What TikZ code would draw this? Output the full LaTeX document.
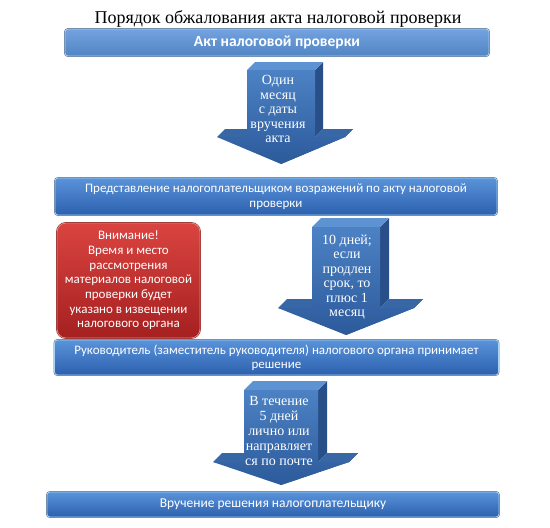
\documentclass[tikz,border=0pt]{standalone}
\usepackage{fontspec}
\setmainfont{Liberation Serif}
\newfontfamily\sansf{Carlito}
\definecolor{boxtop}{HTML}{5A93DA}
\definecolor{boxbot}{HTML}{2C60AE}
\definecolor{boxrim}{HTML}{A8D2F2}
\definecolor{boxout}{HTML}{5B6E8C}
\definecolor{redtop}{HTML}{DA4440}
\definecolor{redbot}{HTML}{A52020}
\definecolor{redrim}{HTML}{E98580}
\definecolor{redout}{HTML}{7A1A1A}
\definecolor{arrfronttop}{HTML}{4C82C4}
\definecolor{arrfrontbot}{HTML}{2C5A9B}
\definecolor{arrtop}{HTML}{5E93D3}
\definecolor{arrside}{HTML}{294F88}
\definecolor{arrwing}{HTML}{3867A6}
\tikzset{
  bluebox/.style={preaction={draw=boxout, line width=1.8pt}, draw=boxrim, line width=0.8pt,
    rounded corners=3pt, top color=boxtop, bottom color=boxbot, text=white,
    font=\sansf\fontsize{13}{15}\selectfont, inner sep=0pt, align=center, anchor=center},
  redbox/.style={preaction={draw=redout, line width=1.8pt}, draw=redrim, line width=0.8pt,
    rounded corners=9pt, top color=redtop, bottom color=redbot, text=white,
    font=\sansf\fontsize{13}{14.7}\selectfont, inner sep=0pt, align=center},
  arrtext/.style={text=white, font=\fontsize{14}{14.5}\selectfont, align=center, inner sep=0pt},
  titletext/.style={font=\fontsize{18}{20}\selectfont, inner sep=0pt, anchor=base},
}
% 3D block arrow: cx, T (shaft top), W (wing line), Y (tip), hw (shaft half width), ww (wing half width), d (depth)
\newcommand\tdarrow[7]{%
  \pgfmathsetmacro\aL{#1-#5}\pgfmathsetmacro\aR{#1+#5}%
  \pgfmathsetmacro\aXl{#1-#6}\pgfmathsetmacro\aXr{#1+#6}%
  \fill[arrside] (\aR,#2) -- (\aR+#7,#2-#7) -- (\aR+#7,#3-#7) -- (\aR,#3) -- cycle;
  \fill[arrside] (\aXr,#3) -- (#1,#4) -- (#1+#7,#4-#7) -- (\aXr+#7,#3-#7) -- cycle;
  \fill[arrwing] (\aXl,#3) -- (\aL,#3) -- (\aL+#7,#3-#7) -- (\aXl+#7,#3-#7) -- cycle;
  \fill[arrwing] (\aR,#3) -- (\aXr,#3) -- (\aXr+#7,#3-#7) -- (\aR+#7,#3-#7) -- cycle;
  \fill[arrtop] (\aL,#2) -- (\aR,#2) -- (\aR+#7,#2-#7) -- (\aL+#7,#2-#7) -- cycle;
  \shade[top color=arrfronttop, bottom color=arrfrontbot]
    (\aL,#2) -- (\aR,#2) -- (\aR,#3) -- (\aXr,#3) -- (#1,#4) -- (\aXl,#3) -- (\aL,#3) -- cycle;
}
\begin{document}
\begin{tikzpicture}[x=1pt,y=-1pt]
\useasboundingbox (0,0) rectangle (550,528);
\fill[white] (0,0) rectangle (550,528);

\node[titletext] (title) at (278,23) {Порядок обжалования акта налоговой проверки};

\node[bluebox, top color=boxtop!85!white, bottom color=boxtop!90!black, minimum width=424pt, minimum height=27pt,
  font=\sansf\bfseries\fontsize{15.5}{17}\selectfont] (b1) at (277,42.5) {Акт налоговой проверки};

\tdarrow{281}{70}{137}{164}{34}{64}{8}
\node[arrtext] (t1) at (278,109) {Один\\месяц\\с даты\\вручения\\акта};

\node[bluebox, minimum width=442pt, minimum height=37pt] (b2) at (276,196.5)
  {Представление налогоплательщиком возражений по акту налоговой\\проверки};

\node[redbox, minimum width=143pt, minimum height=115pt] (warn) at (128.5,280.5)
  {Внимание!\\Время и место\\рассмотрения\\материалов налоговой\\проверки будет\\указано в извещении\\налогового органа};

\tdarrow{346}{227}{308}{335}{34}{68}{9}
\node[arrtext] (t2) at (347,277) {10 дней;\\если\\продлен\\срок, то\\плюс 1\\месяц};

\node[bluebox, minimum width=444pt, minimum height=35pt, font=\sansf\fontsize{13}{14}\selectfont] (b3) at (276.5,357.5)
  {Руководитель (заместитель руководителя) налогового органа принимает\\решение};

\tdarrow{281}{390}{462}{485}{37}{68}{9}
\node[arrtext, font=\fontsize{14}{15}\selectfont] (t3) at (279,431) {В течение\\5 дней\\лично или\\направляет\\ся по почте};

\node[bluebox, minimum width=452pt, minimum height=25pt, font=\sansf\fontsize{13.5}{15}\selectfont] (b4) at (273,504.5)
  {Вручение решения налогоплательщику};
\end{tikzpicture}
\end{document}
